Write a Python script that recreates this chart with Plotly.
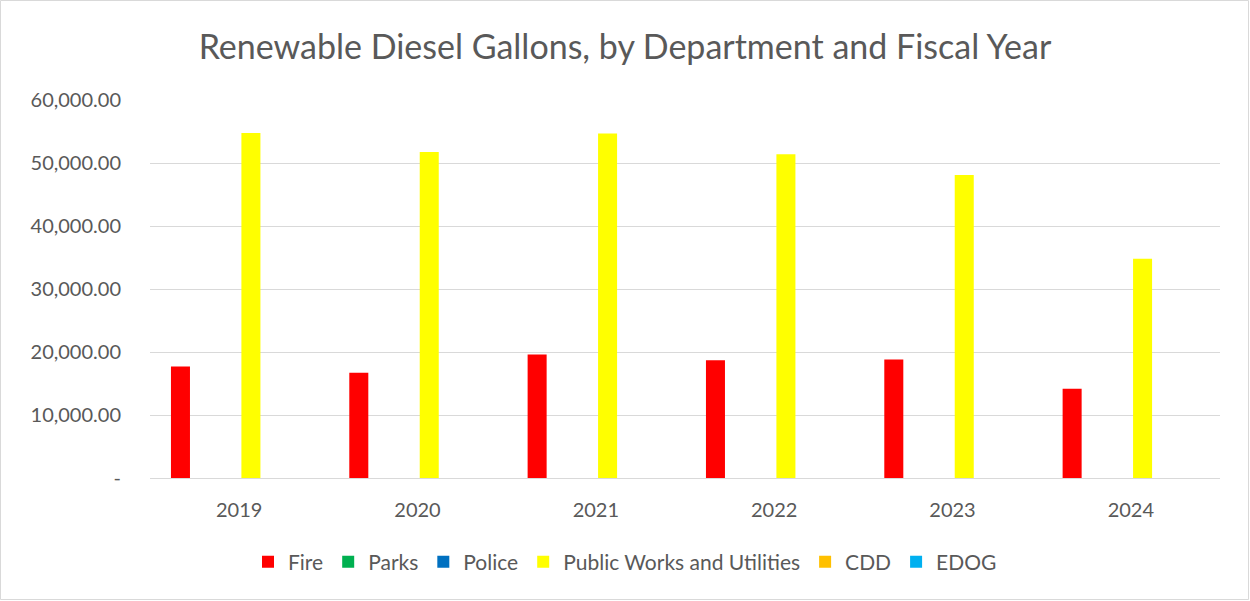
import plotly.graph_objects as go

years = ["2019", "2020", "2021", "2022", "2023", "2024"]
fire = [17700, 16700, 19600, 18700, 18800, 14150]
parks = [0, 0, 0, 0, 0, 0]
police = [0, 0, 0, 0, 0, 0]
public_works = [54750, 51750, 54700, 51400, 48100, 34800]
cdd = [0, 0, 0, 0, 0, 0]
edog = [0, 0, 0, 0, 0, 0]

series = [
    ("Fire", fire, "#FF0000"),
    ("Parks", parks, "#00B050"),
    ("Police", police, "#0070C0"),
    ("Public Works and Utilities", public_works, "#FFFF00"),
    ("CDD", cdd, "#FFC000"),
    ("EDOG", edog, "#00B0F0"),
]

tick_vals = [0, 10000, 20000, 30000, 40000, 50000, 60000]
tick_text = ["-", "10,000.00", "20,000.00", "30,000.00", "40,000.00", "50,000.00", "60,000.00"]

FONT = "Lato, Calibri, Carlito, sans-serif"
GREY = "#595959"

fig = go.Figure()
for name, vals, color in series:
    fig.add_trace(go.Bar(x=years, y=vals, name=name, marker=dict(color=color, line=dict(width=0))))

W, H = 1250, 601
ml, mr, mt, mb = 150, 30, 100, 123
pw = W - ml - mr
ph = H - mt - mb

fig.update_layout(
    width=W, height=H,
    margin=dict(l=ml, r=mr, t=mt, b=mb),
    paper_bgcolor="white", plot_bgcolor="white",
    barmode="group", bargap=0.21, bargroupgap=0.19,
    font=dict(family=FONT, color=GREY, size=20),
    title=dict(text="Renewable Diesel Gallons, by Department and Fiscal Year",
               x=0.5, xref="container", xanchor="center",
               y=1 - 47 / H, yref="container", yanchor="middle",
               font=dict(family=FONT, size=34, color=GREY)),
    legend=dict(orientation="h", x=(625 - ml) / pw, xanchor="center",
                y=-(562 - (mt + ph)) / ph, yanchor="middle",
                font=dict(family=FONT, size=21, color=GREY), traceorder="normal",
                itemwidth=30),
    xaxis=dict(showgrid=False, showline=True, linecolor="#d9d9d9", linewidth=1,
               ticks="", ticklabelstandoff=14,
               tickfont=dict(family=FONT, size=20, color=GREY)),
    yaxis=dict(range=[0, 60000], tickvals=tick_vals, ticktext=tick_text,
               showgrid=True, gridcolor="#d9d9d9", gridwidth=1, zeroline=False,
               showline=False, ticks="", ticklabelstandoff=28,
               tickfont=dict(family=FONT, size=20, color=GREY)),
    shapes=[dict(type="rect", xref="paper", yref="paper",
                 x0=-(ml - 0.5) / pw, x1=1 + (mr - 1.5) / pw,
                 y0=-(mb - 1.5) / ph, y1=1 + (mt - 0.5) / ph,
                 line=dict(color="#d9d9d9", width=1), layer="below")],
)

fig.write_html("out.html", config={"displayModeBar": False},
               post_script="document.body.style.margin='0';")
